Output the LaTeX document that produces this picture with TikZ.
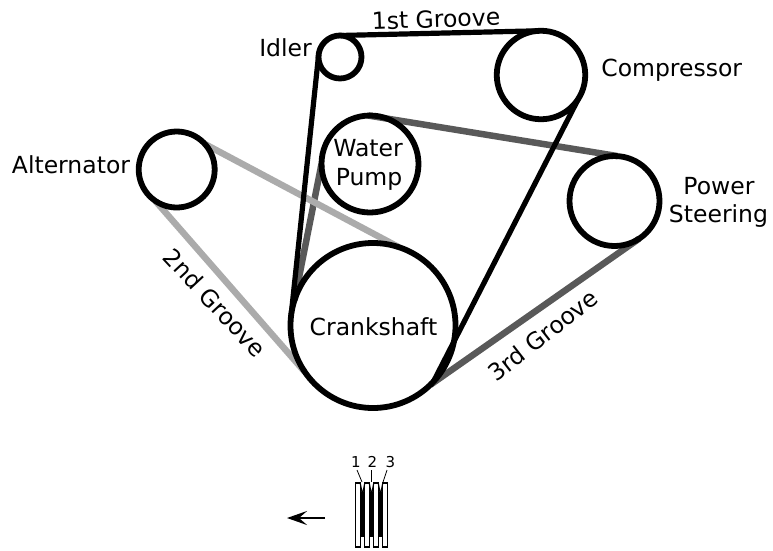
\documentclass[tikz,border=0pt]{standalone}
\usepackage{fontspec}
\setmainfont{DejaVu Sans}
\usetikzlibrary{backgrounds,arrows.meta}
\tikzset{
  pulley/.style={circle,draw,line width=5.8pt,inner sep=0pt,outer sep=0pt},
  label/.style={inner sep=0pt,anchor=base},
  num/.style={inner sep=0pt,font=\fontsize{15}{17}\selectfont},
  black belt/.style={line width=5.2pt,black},
  dark belt/.style={line width=6.5pt,black!65},
  light belt/.style={line width=6.5pt,black!33},
  groove/.style={draw,fill=white,line width=1.2pt},
  tick/.style={line width=.8pt}
}
\begin{document}
\begin{tikzpicture}
  [x=1pt,y=-1pt,font=\fontsize{23.5}{29}\selectfont]
  \useasboundingbox (0,0) rectangle (773,550);

  \node [pulley,minimum size=165pt] (crank) at (373,325.5) {};
  \node [pulley,minimum size=43pt] (idler) at (340,57) {};
  \node [pulley,minimum size=88.5pt] (compressor) at (541,75) {};
  \node [pulley,minimum size=97pt] (pump) at (370,164) {};
  \node [pulley,minimum size=90pt] (steering) at (614.5,201) {};
  \node [pulley,minimum size=76pt] (alternator) at (176.7,169.5) {};

  \node [label] (cranklabel) at (373.5,335.7) {Crankshaft};
  \node [label] (waterlabel) at (368,156) {Water};
  \node [label] (pumplabel) at (369,185) {Pump};
  \node [label] (idlerlabel) at (285.5,56.7) {Idler};
  \node [label] (compressorlabel) at (671.7,76.7) {Compressor};
  \node [label] (powerlabel) at (719,194) {Power};
  \node [label] (steeringlabel) at (718.5,222) {Steering};
  \node [label] (alternatorlabel) at (71,173) {Alternator};
  \node [inner sep=0pt,rotate=2] (first) at (436,19) {1st Groove};
  \node [inner sep=0pt,rotate=-47] (second) at (215,303) {2nd Groove};
  \node [inner sep=0pt,rotate=38] (third) at (543,335) {3rd Groove};

  \begin{scope}[on background layer]
    \draw [dark belt] (pump.92) -- (steering.86);
    \draw [dark belt] (pump.180) -- (crank.162);
    \draw [dark belt] (steering.-57) -- (crank.-46);
    \draw [light belt] (alternator.42) -- (crank.72);
    \draw [light belt] (alternator.-124) -- (crank.214);
    \draw [black belt] (idler.174) -- (crank.174);
    \draw [black belt] (idler.92) -- (compressor.92);
    \draw [black belt] (compressor.-31) -- (crank.-43);
  \end{scope}

  % belt profile
  \foreach \x in {362.5,371.5,380.5}
    \fill (\x-2.6,492) rectangle (\x+2.6,537);
  \foreach \x in {358,367,376,385}
    \draw [groove] (\x-2.2,483) rectangle (\x+2.2,547);
  \foreach \x in {358,367,376} {
    \fill [white] (\x+2.7,483) -- (\x+4.5,492) -- (\x+6.3,483) -- cycle;
    \draw [line width=1.2pt] (\x+2.2,483) -- (\x+4.5,495) -- (\x+6.8,483);
  }

  \node [num] (one) at (356,462) {1};
  \node [num] (two) at (372.5,462) {2};
  \node [num] (three) at (390.5,462) {3};
  \coordinate (va) at (362,482);
  \coordinate (vb) at (371.5,482);
  \coordinate (vc) at (383,482);
  \draw [tick] (357,470) -- (va);
  \draw [tick] (371.5,470) -- (vb);
  \draw [tick] (387,470) -- (vc);

  \coordinate (tail) at (325,518);
  \coordinate (head) at (287,518);
  \draw [line width=2.4pt,-{Stealth[length=20pt,width=14pt,inset=8pt]}] (tail) -- (head);
\end{tikzpicture}
\end{document}
